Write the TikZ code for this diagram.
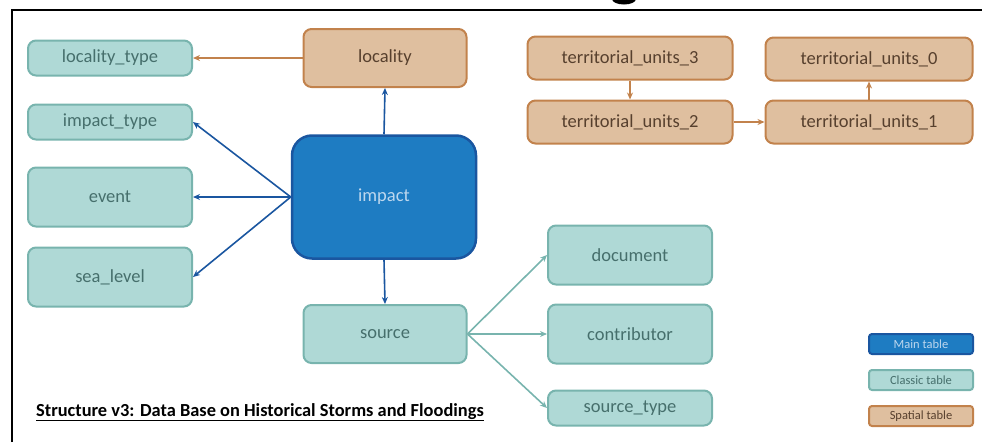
\documentclass[tikz,border=0pt]{standalone}
\usepackage{fontspec}
\setmainfont{Carlito}
\usetikzlibrary{positioning, arrows.meta}

\definecolor{mainfill}{HTML}{1E7CC2}
\definecolor{mainline}{HTML}{1A56A0}
\definecolor{maintext}{HTML}{BDD7EE}
\definecolor{classicfill}{HTML}{AFD9D6}
\definecolor{classicline}{HTML}{78B4AE}
\definecolor{classictext}{HTML}{466F6C}
\definecolor{spatialfill}{HTML}{DFBF9F}
\definecolor{spatialline}{HTML}{C2824C}
\definecolor{spatialtext}{HTML}{57402E}

\begin{document}
\begin{tikzpicture}[x=1pt, y=-1pt,
mainnode/.style={rectangle, rounded corners=20pt, draw=mainline, fill=mainfill, line width=2.5pt, text=maintext, font=\fontsize{18.5}{20}\selectfont},
classicnode/.style={rectangle, rounded corners=8pt, draw=classicline, fill=classicfill, line width=2pt, text=classictext, font=\fontsize{18.5}{20}\selectfont},
spatialnode/.style={rectangle, rounded corners=8pt, draw=spatialline, fill=spatialfill, line width=2pt, text=spatialtext, font=\fontsize{18.5}{20}\selectfont},
keynode/.style={minimum width=104pt, minimum height=20pt, inner sep=0pt, rounded corners=3pt, font=\fontsize{12.5}{14}\selectfont},
bluearrow/.style={-{Stealth[length=7pt, width=6pt]}, draw=mainline, line width=1.6pt},
tealarrow/.style={-{Stealth[length=7pt, width=6pt]}, draw=classicline, line width=1.6pt},
brownarrow/.style={-{Stealth[length=7pt, width=6pt]}, draw=spatialline, line width=1.6pt},
]
\useasboundingbox (0,0) rectangle (982,442);

%Frame
\draw[line width=2.2pt] (12,442) -- (12,10) -- (982,10);
\fill (624,-1) ellipse [x radius=12pt, y radius=5.5pt];

%Nodes
\node[mainnode, minimum width=184pt, minimum height=123pt] (impact_node) at (384,197) {impact};

\node[spatialnode, minimum width=163pt, minimum height=58pt] (locality_node) at (385,58) {locality};
\node[classicnode, minimum width=163pt, minimum height=58pt] (source_node) at (385,334) {source};

\node[classicnode, minimum width=164pt, minimum height=35pt] (locality_type_node) at (110,58) {locality\_type};
\node[classicnode, minimum width=164pt, minimum height=35pt] (impact_type_node) at (110,122) {impact\_type};
\node[classicnode, minimum width=164pt, minimum height=59pt] (event_node) at (110,197) {event};
\node[classicnode, minimum width=164pt, minimum height=59pt] (sea_level_node) at (110,277) {sea\_level};

\node[classicnode, minimum width=164pt, minimum height=59pt] (document_node) at (630,255) {document};
\node[classicnode, minimum width=164pt, minimum height=59pt] (contributor_node) at (630,334) {contributor};
\node[classicnode, minimum width=164pt, minimum height=35pt] (source_type_node) at (630,408) {source\_type};

\node[spatialnode, minimum width=205pt, minimum height=43pt] (tu_3_node) at (630,58) {territorial\_units\_3};
\node[spatialnode, minimum width=205pt, minimum height=43pt] (tu_2_node) at (630,122) {territorial\_units\_2};
\node[spatialnode, minimum width=207pt, minimum height=43pt] (tu_0_node) at (869,59) {territorial\_units\_0};
\node[spatialnode, minimum width=207pt, minimum height=43pt] (tu_1_node) at (869,122) {territorial\_units\_1};

%Legend
\node[mainnode, keynode, line width=2pt] (main_key_node) at (921,344) {Main table};
\node[classicnode, keynode] (classic_key_node) [below=14pt of main_key_node] {Classic table};
\node[spatialnode, keynode] (spatial_key_node) [below=14pt of classic_key_node] {Spatial table};

\node[font=\fontsize{18.4}{20}\selectfont\bfseries, anchor=base west, inner sep=0pt] (title_node) at (36,416) {\underline{Structure v3: Data Base on Historical Storms and Floodings}};

%Lines
\draw[bluearrow] (impact_node.north) -- (locality_node.south);
\draw[bluearrow] (impact_node.south) -- (source_node.north);
\draw[bluearrow] (impact_node.west) -- (impact_type_node.east);
\draw[bluearrow] (impact_node.west) -- (event_node.east);
\draw[bluearrow] (impact_node.west) -- (sea_level_node.east);

\draw[brownarrow] (locality_node.west) -- (locality_type_node.east);
\draw[brownarrow] (tu_3_node.south) -- (tu_2_node.north);
\draw[brownarrow] (tu_2_node.east) -- (tu_1_node.west);
\draw[brownarrow] (tu_1_node.north) -- (tu_0_node.south);

\draw[tealarrow] (source_node.east) -- (document_node.west);
\draw[tealarrow] (source_node.east) -- (contributor_node.west);
\draw[tealarrow] (source_node.east) -- (source_type_node.west);

\end{tikzpicture}
\end{document}
